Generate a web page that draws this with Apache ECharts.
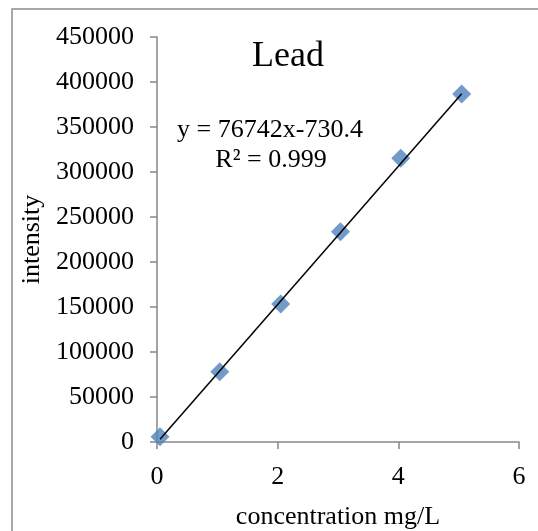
<!DOCTYPE html>
<html>
<head>
<meta charset="utf-8">
<script src="https://cdn.jsdelivr.net/npm/echarts@6/dist/echarts.min.js"></script>
<style>html,body{margin:0;padding:0;background:#fff;}#c{width:538px;height:531px;}</style>
</head>
<body>
<div id="c"></div>
<script>
const concentration = [0.05, 1.04, 2.05, 3.04, 4.04, 5.05];
const intensity = [5900, 78100, 153300, 233700, 315200, 386700];
const slope = 76742;
const intercept = -730.4;
const r2 = 0.999;
const xTicks = [0, 2, 4, 6];
const yTicks = [0, 50000, 100000, 150000, 200000, 250000, 300000, 350000, 400000, 450000];

const points = concentration.map((x, i) => [x, intensity[i]]);
const x0 = concentration[0], x1 = concentration[concentration.length - 1];
const trend = [[x0, slope * x0 + intercept], [x1, slope * x1 + intercept]];
const font = '"Liberation Serif", "Times New Roman", serif';

const chart = echarts.init(document.getElementById('c'), null, {renderer: 'canvas'});
chart.setOption({
  animation: false,
  backgroundColor: '#fff',
  textStyle: {fontFamily: font},
  grid: {left: 157, right: 19, top: 37, bottom: 89, containLabel: false, outerBoundsMode: 'none'},
  graphic: [
    {type: 'rect', shape: {x: 12, y: 9, width: 700, height: 700}, style: {fill: 'none', stroke: '#8c8c8c', lineWidth: 1.5}, z: -1},
    {type: 'text', style: {text: 'Lead', x: 288, y: 57, align: 'center', verticalAlign: 'middle', font: '36px ' + font, fill: '#000'}},
    {type: 'text', style: {text: 'y = ' + slope + 'x' + intercept, x: 270, y: 130, align: 'center', verticalAlign: 'middle', font: '26px ' + font, fill: '#000'}},
    {type: 'text', style: {text: 'R² = ' + r2, x: 271, y: 160, align: 'center', verticalAlign: 'middle', font: '26px ' + font, fill: '#000'}}
  ],
  xAxis: {
    type: 'value', min: xTicks[0], max: xTicks[xTicks.length - 1], interval: 2,
    name: 'concentration mg/L', nameLocation: 'middle', nameGap: 62,
    nameTextStyle: {fontFamily: font, fontSize: 26, color: '#000'},
    axisLine: {lineStyle: {color: '#868686', width: 1.5}},
    axisTick: {show: true, length: 7, lineStyle: {color: '#868686', width: 1.5}},
    axisLabel: {fontFamily: font, fontSize: 26, color: '#000', margin: 22},
    splitLine: {show: false}
  },
  yAxis: {
    type: 'value', min: yTicks[0], max: yTicks[yTicks.length - 1], interval: 50000,
    name: 'intensity', nameLocation: 'middle', nameGap: 110,
    nameTextStyle: {fontFamily: font, fontSize: 26, color: '#000'},
    axisLine: {show: true, lineStyle: {color: '#868686', width: 1.5}},
    axisTick: {show: true, length: 7, lineStyle: {color: '#868686', width: 1.5}},
    axisLabel: {fontFamily: font, fontSize: 26, color: '#000', margin: 23, formatter: v => String(v)},
    splitLine: {show: false}
  },
  series: [
    {type: 'line', data: trend, symbol: 'none', lineStyle: {color: '#000', width: 1.5}, z: 3},
    {type: 'scatter', data: points, symbol: 'diamond', symbolSize: 19, itemStyle: {color: '#4F81BD'}, z: 2}
  ]
});
</script>
</body>
</html>
